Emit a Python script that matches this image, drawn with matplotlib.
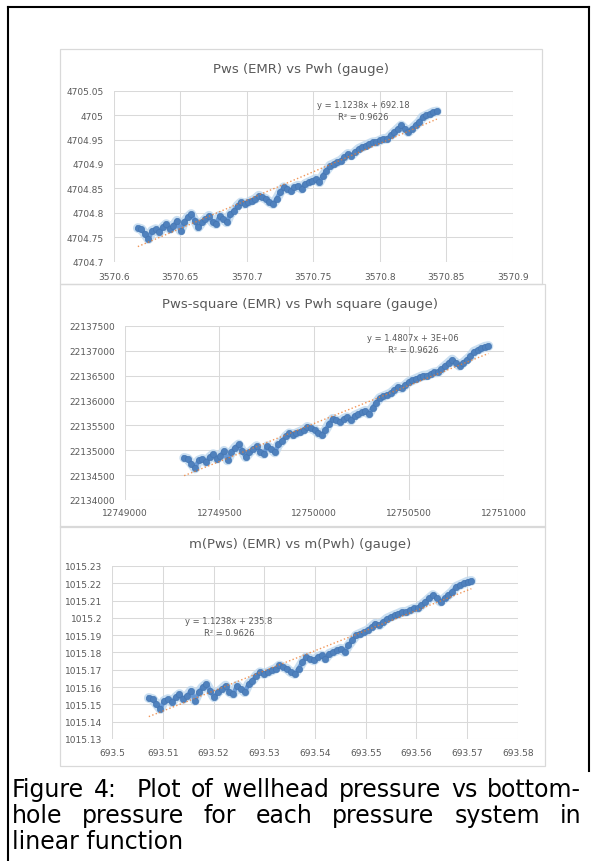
import numpy as np
import matplotlib.pyplot as plt
from matplotlib.patches import Rectangle
from matplotlib.lines import Line2D

# Pwh (gauge) vs Pws (EMR)
pwh = [3570.6182, 3570.6209, 3570.6235, 3570.6262, 3570.6289, 3570.6316, 3570.6342, 3570.6369, 3570.6396, 3570.6423,
       3570.6449, 3570.6476, 3570.6503, 3570.6529, 3570.6556, 3570.6583, 3570.6610, 3570.6636, 3570.6663, 3570.6690,
       3570.6717, 3570.6743, 3570.6770, 3570.6797, 3570.6824, 3570.6850, 3570.6877, 3570.6904, 3570.6931, 3570.6957,
       3570.6984, 3570.7011, 3570.7038, 3570.7064, 3570.7091, 3570.7118, 3570.7145, 3570.7171, 3570.7198, 3570.7225,
       3570.7251, 3570.7278, 3570.7305, 3570.7332, 3570.7358, 3570.7385, 3570.7412, 3570.7439, 3570.7465, 3570.7492,
       3570.7519, 3570.7546, 3570.7572, 3570.7599, 3570.7626, 3570.7653, 3570.7679, 3570.7706, 3570.7733, 3570.7760,
       3570.7786, 3570.7813, 3570.7840, 3570.7867, 3570.7893, 3570.7920, 3570.7947, 3570.7973, 3570.8000, 3570.8027,
       3570.8054, 3570.8080, 3570.8107, 3570.8134, 3570.8161, 3570.8187, 3570.8214, 3570.8241, 3570.8268, 3570.8294,
       3570.8321, 3570.8348, 3570.8375, 3570.8401, 3570.8428]
pws = [4704.7685, 4704.7664, 4704.7562, 4704.7459, 4704.7630, 4704.7664, 4704.7596, 4704.7699, 4704.7767, 4704.7664,
       4704.7733, 4704.7836, 4704.7630, 4704.7801, 4704.7904, 4704.7973, 4704.7836, 4704.7699, 4704.7801, 4704.7870,
       4704.7938, 4704.7801, 4704.7767, 4704.7938, 4704.7870, 4704.7801, 4704.7973, 4704.8041, 4704.8144, 4704.8212,
       4704.8178, 4704.8212, 4704.8247, 4704.8281, 4704.8349, 4704.8315, 4704.8281, 4704.8212, 4704.8178, 4704.8281,
       4704.8418, 4704.8521, 4704.8486, 4704.8452, 4704.8521, 4704.8555, 4704.8486, 4704.8589, 4704.8623, 4704.8658,
       4704.8692, 4704.8623, 4704.8760, 4704.8863, 4704.8966, 4704.9000, 4704.9034, 4704.9069, 4704.9137, 4704.9206,
       4704.9171, 4704.9240, 4704.9308, 4704.9343, 4704.9377, 4704.9411, 4704.9445, 4704.9445, 4704.9480, 4704.9514,
       4704.9514, 4704.9582, 4704.9651, 4704.9719, 4704.9788, 4704.9719, 4704.9651, 4704.9719, 4704.9788, 4704.9856,
       4704.9959, 4704.9993, 4705.0028, 4705.0062, 4705.0076]

# squared pressures (second chart)
pwh_sq = [12749314, 12749333, 12749352, 12749371, 12749390, 12749410, 12749429, 12749448, 12749467, 12749486,
          12749505, 12749524, 12749543, 12749562, 12749582, 12749601, 12749620, 12749639, 12749658, 12749677,
          12749696, 12749715, 12749734, 12749753, 12749773, 12749792, 12749811, 12749830, 12749849, 12749868,
          12749887, 12749906, 12749925, 12749944, 12749963, 12749983, 12750002, 12750021, 12750040, 12750059,
          12750078, 12750097, 12750116, 12750135, 12750154, 12750174, 12750193, 12750212, 12750231, 12750250,
          12750269, 12750288, 12750307, 12750326, 12750345, 12750364, 12750384, 12750403, 12750422, 12750441,
          12750460, 12750479, 12750498, 12750517, 12750536, 12750555, 12750575, 12750594, 12750613, 12750632,
          12750651, 12750670, 12750689, 12750708, 12750727, 12750746, 12750766, 12750785, 12750804, 12750823,
          12750842, 12750861, 12750880, 12750899, 12750918]
pws_sq = [22134847, 22134827, 22134731, 22134634, 22134795, 22134827, 22134763, 22134860, 22134924, 22134827,
          22134892, 22134989, 22134795, 22134956, 22135053, 22135118, 22134989, 22134860, 22134956, 22135021,
          22135085, 22134956, 22134924, 22135085, 22135021, 22134956, 22135118, 22135182, 22135279, 22135343,
          22135311, 22135343, 22135376, 22135407, 22135471, 22135439, 22135407, 22135343, 22135311, 22135407,
          22135536, 22135633, 22135600, 22135568, 22135633, 22135665, 22135600, 22135697, 22135729, 22135762,
          22135794, 22135729, 22135858, 22135955, 22136052, 22136084, 22136116, 22136149, 22136213, 22136278,
          22136245, 22136310, 22136374, 22136407, 22136439, 22136471, 22136503, 22136503, 22136536, 22136568,
          22136568, 22136632, 22136697, 22136761, 22136826, 22136761, 22136697, 22136761, 22136826, 22136889,
          22136986, 22137018, 22137051, 22137083, 22137097]

# pseudo-pressures (third chart)
m_pwh = [693.50725, 693.50801, 693.50876, 693.50952, 693.51028, 693.51103, 693.51179, 693.51255, 693.51330, 693.51406,
         693.51482, 693.51557, 693.51633, 693.51709, 693.51784, 693.51860, 693.51936, 693.52011, 693.52087, 693.52163,
         693.52238, 693.52314, 693.52390, 693.52465, 693.52541, 693.52617, 693.52692, 693.52768, 693.52844, 693.52919,
         693.52995, 693.53071, 693.53146, 693.53222, 693.53298, 693.53373, 693.53449, 693.53525, 693.53600, 693.53676,
         693.53752, 693.53827, 693.53903, 693.53979, 693.54054, 693.54130, 693.54206, 693.54281, 693.54357, 693.54433,
         693.54508, 693.54584, 693.54660, 693.54735, 693.54811, 693.54887, 693.54962, 693.55038, 693.55114, 693.55190,
         693.55265, 693.55341, 693.55417, 693.55492, 693.55568, 693.55644, 693.55719, 693.55795, 693.55871, 693.55946,
         693.56022, 693.56098, 693.56173, 693.56249, 693.56325, 693.56400, 693.56476, 693.56552, 693.56627, 693.56703,
         693.56779, 693.56854, 693.56930, 693.57006, 693.57081]
m_pws = [1015.1537, 1015.1531, 1015.1502, 1015.1473, 1015.1521, 1015.1531, 1015.1512, 1015.1541, 1015.1560, 1015.1531,
         1015.1550, 1015.1580, 1015.1521, 1015.1570, 1015.1599, 1015.1618, 1015.1580, 1015.1541, 1015.1570, 1015.1589,
         1015.1609, 1015.1570, 1015.1560, 1015.1609, 1015.1589, 1015.1570, 1015.1618, 1015.1638, 1015.1667, 1015.1686,
         1015.1676, 1015.1686, 1015.1696, 1015.1706, 1015.1725, 1015.1715, 1015.1706, 1015.1686, 1015.1676, 1015.1706,
         1015.1744, 1015.1773, 1015.1764, 1015.1754, 1015.1773, 1015.1783, 1015.1764, 1015.1793, 1015.1802, 1015.1812,
         1015.1822, 1015.1802, 1015.1841, 1015.1870, 1015.1899, 1015.1909, 1015.1919, 1015.1929, 1015.1948, 1015.1967,
         1015.1957, 1015.1977, 1015.1996, 1015.2006, 1015.2016, 1015.2025, 1015.2035, 1015.2035, 1015.2045, 1015.2055,
         1015.2055, 1015.2074, 1015.2093, 1015.2113, 1015.2132, 1015.2113, 1015.2093, 1015.2113, 1015.2132, 1015.2151,
         1015.2180, 1015.2190, 1015.2200, 1015.2210, 1015.2214]

# axis ticks / labels
x1_ticks = [3570.6, 3570.65, 3570.7, 3570.75, 3570.8, 3570.85, 3570.9]
x1_labels = ['3570.6', '3570.65', '3570.7', '3570.75', '3570.8', '3570.85', '3570.9']
y1_ticks = [4704.7, 4704.75, 4704.8, 4704.85, 4704.9, 4704.95, 4705.0, 4705.05]
y1_labels = ['4704.7', '4704.75', '4704.8', '4704.85', '4704.9', '4704.95', '4705', '4705.05']
x2_ticks = [12749000, 12749500, 12750000, 12750500, 12751000]
x2_labels = ['12749000', '12749500', '12750000', '12750500', '12751000']
y2_ticks = [22134000, 22134500, 22135000, 22135500, 22136000, 22136500, 22137000, 22137500]
y2_labels = ['22134000', '22134500', '22135000', '22135500', '22136000', '22136500', '22137000', '22137500']
x3_ticks = [693.5, 693.51, 693.52, 693.53, 693.54, 693.55, 693.56, 693.57, 693.58]
x3_labels = ['693.5', '693.51', '693.52', '693.53', '693.54', '693.55', '693.56', '693.57', '693.58']
y3_ticks = [1015.13, 1015.14, 1015.15, 1015.16, 1015.17, 1015.18, 1015.19, 1015.2, 1015.21, 1015.22, 1015.23]
y3_labels = ['1015.13', '1015.14', '1015.15', '1015.16', '1015.17', '1015.18', '1015.19', '1015.2',
             '1015.21', '1015.22', '1015.23']

titles = ['Pws (EMR) vs Pwh (gauge)', 'Pws-square (EMR) vs Pwh square (gauge)', 'm(Pws) (EMR) vs m(Pwh) (gauge)']
equations = [('y = 1.1238x + 692.18', 'R² = 0.9626'),
             ('y = 1.4807x + 3E+06', 'R² = 0.9626'),
             ('y = 1.1238x + 235.8', 'R² = 0.9626')]

caption = ['Figure 4:  Plot of wellhead pressure vs bottom-',
           'hole pressure for each pressure system in',
           'linear function']

W, H = 591, 862
GRAY = '#595959'
GRID = '#D9D9D9'

fig = plt.figure(figsize=(W / 100, H / 100), dpi=100)
fig.patch.set_facecolor('white')


def fx(x):
    return x / W


def fy(y):
    return 1 - y / H


# black frame of the figure cell
for xs, ys in [([7.5, 589], [7.5, 7.5]), ([7.5, 7.5], [7.5, 862]), ([589, 589], [7.5, 772])]:
    fig.add_artist(Line2D([fx(v) for v in xs], [fy(v) for v in ys], transform=fig.transFigure,
                          color='black', lw=1.5))

# panel layout in pixels: frame (l, t, r, b), plot area (l, t, r, b), title pos, equation pos, x-label pad
panels = [
    dict(frame=(60, 50, 542, 285), area=(113.6, 91.7, 513, 262.5), title_xy=(301, 70), eq_xy=(363, 105), xpad=7.5),
    dict(frame=(60, 285, 545, 528), area=(124.6, 327, 504, 501), title_xy=(300, 305), eq_xy=(413, 339), xpad=6),
    dict(frame=(60, 527, 545, 767), area=(112, 567, 518, 740), title_xy=(300, 545), eq_xy=(229, 622), xpad=6.5),
]
series = [(pwh, pws, x1_ticks, x1_labels, y1_ticks, y1_labels),
          (pwh_sq, pws_sq, x2_ticks, x2_labels, y2_ticks, y2_labels),
          (m_pwh, m_pws, x3_ticks, x3_labels, y3_ticks, y3_labels)]

for i, (p, s) in enumerate(zip(panels, series)):
    x, y, xt, xl, yt, yl = s
    fl, ft, fr, fb = p['frame']
    fig.add_artist(Rectangle((fx(fl), fy(fb)), (fr - fl) / W, (fb - ft) / H, transform=fig.transFigure,
                             fill=False, edgecolor=GRID, lw=0.9))
    al, at, ar, ab = p['area']
    ax = fig.add_axes([fx(al), fy(ab), (ar - al) / W, (ab - at) / H])

    x = np.array(x, dtype=float)
    y = np.array(y, dtype=float)
    # light halo + dense blue markers, like the Excel scatter band
    ax.plot(x, y, '-', color='#BDD7EE', lw=7, alpha=0.8, solid_capstyle='round', zorder=2)
    ax.plot(x, y, '-', color='#5B8FD0', lw=3.2, alpha=0.9, zorder=3)
    ax.plot(x, y, 'o', ms=4.6, mfc='#4F81BD', mec='#4273B0', mew=0.4, zorder=3)

    # linear trendline
    coef = np.polyfit(x - x.mean(), y - y.mean(), 1)
    xx = np.array([x.min(), x.max()])
    ax.plot(xx, np.polyval(coef, xx - x.mean()) + y.mean(), ':', color='#ED7D31', lw=1.0, alpha=0.8, zorder=4)

    ax.set_xlim(xt[0], xt[-1])
    ax.set_ylim(yt[0], yt[-1])
    ax.set_xticks(xt)
    ax.set_xticklabels(xl)
    ax.set_yticks(yt)
    ax.set_yticklabels(yl)
    ax.tick_params(length=0, labelsize=6.5, labelcolor=GRAY)
    ax.tick_params(axis='x', pad=p['xpad'])
    ax.tick_params(axis='y', pad=7)
    ax.grid(True, color=GRID, lw=0.75)
    ax.set_axisbelow(True)
    for sp in ax.spines.values():
        sp.set_visible(False)
    ax.patch.set_alpha(0)

    tx, ty = p['title_xy']
    fig.text(fx(tx), fy(ty), titles[i], ha='center', va='center', fontsize=9.5, color=GRAY)
    ex, ey = p['eq_xy']
    fig.text(fx(ex), fy(ey), equations[i][0], ha='center', va='center', fontsize=6, color=GRAY)
    fig.text(fx(ex), fy(ey + 12), equations[i][1], ha='center', va='center', fontsize=6, color=GRAY)

# caption, first two lines justified
renderer = fig.canvas.get_renderer()
cap_x0, cap_x1 = 12, 581
cap_y = [790, 816, 842]
cap_size = 17
for line, y in zip(caption, cap_y):
    if line == caption[-1]:
        fig.text(fx(cap_x0), fy(y), line, ha='left', va='center', fontsize=cap_size, color='black')
        continue
    words = line.split(' ')
    texts = [fig.text(0, fy(y), w, ha='left', va='center', fontsize=cap_size, color='black') for w in words]
    widths = [t.get_window_extent(renderer).width if w else 0 for t, w in zip(texts, words)]
    gap = (cap_x1 - cap_x0 - sum(widths)) / (len(words) - 1)
    xpos = cap_x0
    for t, w in zip(texts, widths):
        t.set_x(fx(xpos))
        xpos += w + gap

fig.savefig('out.png', dpi=100)
